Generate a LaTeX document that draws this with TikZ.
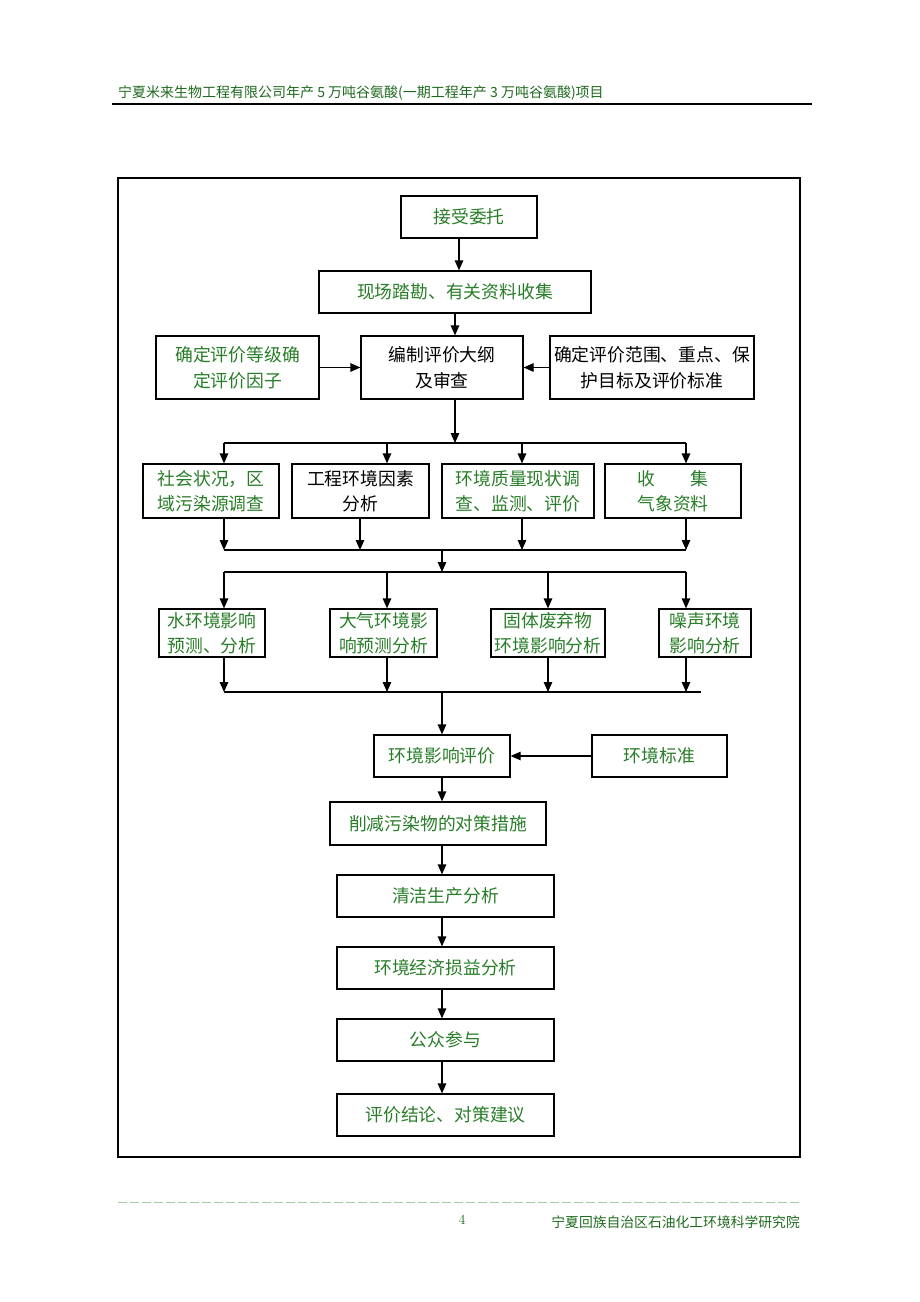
\documentclass[tikz,border=0pt]{standalone}
\usepackage{fontspec}
\newfontfamily\cjk{Noto Sans CJK SC}
\usetikzlibrary{arrows.meta}
\definecolor{tgreen}{RGB}{40,125,40}
\definecolor{hgreen}{RGB}{30,105,30}
\definecolor{lgreen}{RGB}{165,205,165}
\tikzset{
  box/.style={draw=black, line width=1.2pt, rectangle, inner sep=0pt, align=center,
     font=\cjk\fontsize{17.8}{25.5}\selectfont, text=tgreen},
  bk/.style={text=black},
  arr/.style={line width=1.2pt, -{Triangle[length=10pt,width=8.5pt]}},
  ln/.style={line width=1.2pt},
}
\begin{document}
\begin{tikzpicture}[x=1pt,y=-1pt]
\useasboundingbox (0,0) rectangle (920,1302);
% header
\node[anchor=west, inner sep=0pt, text=hgreen, font=\cjk\fontsize{14}{16}\selectfont] (hdr) at (118,93) {宁夏米来生物工程有限公司年产 5 万吨谷氨酸(一期工程年产 3 万吨谷氨酸)项目};
\draw[line width=1.6pt] (112,104) coordinate (hl1) -- (812,104) coordinate (hl2);
% frame
\draw[line width=1.2pt] (118,178) rectangle (800,1157);
% boxes
\node[box, minimum width=136, minimum height=42] (a) at (469,217) {接受委托};
\node[box, minimum width=272, minimum height=42] (b) at (455,292) {现场踏勘、有关资料收集};
\node[box, minimum width=163, minimum height=63] (c) at (237.5,367.5) {确定评价等级确\\定评价因子};
\node[box, bk, minimum width=162, minimum height=63] (d) at (442,367.5) {编制评价大纲\\及审查};
\node[box, bk, minimum width=204, minimum height=63] (e) at (652,367.5) {确定评价范围、重点、保\\护目标及评价标准};
\node[box, minimum width=136, minimum height=54] (f1) at (211,491) {社会状况，区\\域污染源调查};
\node[box, bk, minimum width=137, minimum height=54] (f2) at (360.5,491) {工程环境因素\\分析};
\node[box, minimum width=152, minimum height=54] (f3) at (518,491) {环境质量现状调\\查、监测、评价};
\node[box, minimum width=136, minimum height=54] (f4) at (673,491) {收\hspace{2em}集\\气象资料};
\node[box, minimum width=106, minimum height=48] (g1) at (212,633) {水环境影响\\预测、分析};
\node[box, minimum width=107, minimum height=48] (g2) at (383.5,633) {大气环境影\\响预测分析};
\node[box, minimum width=114, minimum height=48] (g3) at (548,633) {固体废弃物\\环境影响分析};
\node[box, minimum width=92, minimum height=48] (g4) at (705,633) {噪声环境\\影响分析};
\node[box, minimum width=136, minimum height=42] (h) at (442,756) {环境影响评价};
\node[box, minimum width=135, minimum height=42] (s) at (659.5,756) {环境标准};
\node[box, minimum width=216, minimum height=43] (i) at (438,823.5) {削减污染物的对策措施};
\node[box, minimum width=217, minimum height=42] (j) at (445.5,896) {清洁生产分析};
\node[box, minimum width=217, minimum height=42] (k) at (445.5,968) {环境经济损益分析};
\node[box, minimum width=217, minimum height=42] (l) at (445.5,1040) {公众参与};
\node[box, minimum width=217, minimum height=42] (m) at (445.5,1115) {评价结论、对策建议};
% bus coordinates
\coordinate (b1L) at (224,443); \coordinate (b1R) at (686,443);
\coordinate (b2L) at (224,550); \coordinate (b2R) at (686,550);
\coordinate (b3L) at (224,572); \coordinate (b3R) at (686,572);
\coordinate (b4L) at (224,692); \coordinate (b4R) at (701,692);
% connectors
\draw[arr] ([xshift=-10pt]a.south) -- ([xshift=-10pt]a.south |- b.north);
\draw[arr] (b.south) -- (b.south |- d.north);
\draw[arr] (c.east) -- (d.west);
\draw[arr] (e.west) -- (d.east);
\draw[arr] ([xshift=13pt]d.south) -- ([xshift=13pt]d.south |- b1L);
\draw[ln] (b1L) -- (b1R);
\draw[arr] (224,443) -- (224,443 |- f1.north);
\draw[arr] (387,443) -- (387,443 |- f2.north);
\draw[arr] (522,443) -- (522,443 |- f3.north);
\draw[arr] (686,443) -- (686,443 |- f4.north);
\draw[arr] (224,443 |- f1.south) -- (224,550);
\draw[arr] (360,443 |- f2.south) -- (360,550);
\draw[arr] (522,443 |- f3.south) -- (522,550);
\draw[arr] (686,443 |- f4.south) -- (686,550);
\draw[ln] (b2L) -- (b2R);
\draw[arr] (442,550) -- (442,572);
\draw[ln] (b3L) -- (b3R);
\draw[arr] (224,572) -- (224,572 |- g1.north);
\draw[arr] (387,572) -- (387,572 |- g2.north);
\draw[arr] (548,572) -- (548,572 |- g3.north);
\draw[arr] (686,572) -- (686,572 |- g4.north);
\draw[arr] (224,572 |- g1.south) -- (224,692);
\draw[arr] (387,572 |- g2.south) -- (387,692);
\draw[arr] (548,572 |- g3.south) -- (548,692);
\draw[arr] (686,572 |- g4.south) -- (686,692);
\draw[ln] (b4L) -- (b4R);
\draw[arr] (442,692) -- (h.north);
\draw[arr] (s.west) -- (h.east);
\draw[arr] (h.south) -- (h.south |- i.north);
\draw[arr] (h.south |- i.south) -- (h.south |- j.north);
\draw[arr] (h.south |- j.south) -- (h.south |- k.north);
\draw[arr] (h.south |- k.south) -- (h.south |- l.north);
\draw[arr] (h.south |- l.south) -- (h.south |- m.north);
% footer
\draw[lgreen, line width=1pt, dash pattern=on 9pt off 3pt] (118,1202) coordinate (f1a) -- (800,1202) coordinate (f1b);
\node[text=hgreen, inner sep=0pt, font=\fontsize{14}{16}\selectfont] (pg) at (462,1220) {4};
\node[anchor=east, inner sep=0pt, text=hgreen, font=\cjk\fontsize{13.8}{15}\selectfont] (ftr) at (800,1222) {宁夏回族自治区石油化工环境科学研究院};
\end{tikzpicture}
\end{document}
